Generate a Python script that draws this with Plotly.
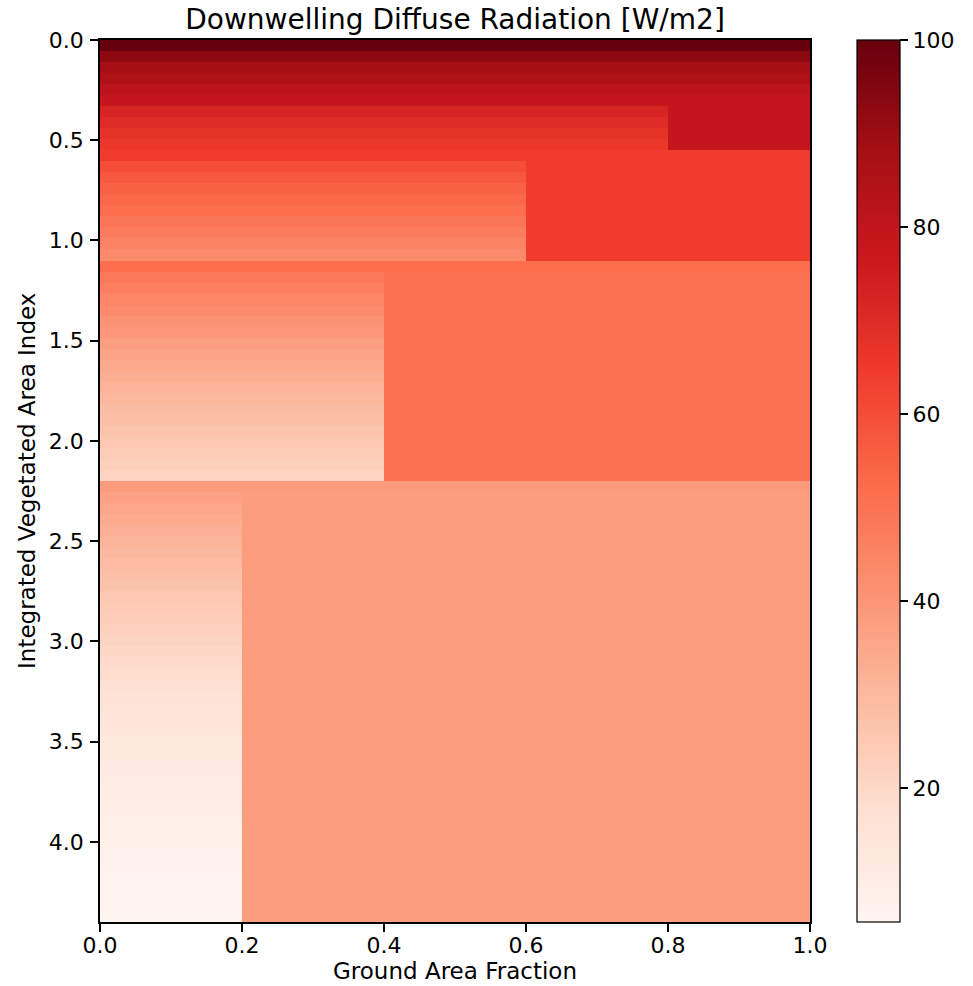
import numpy as np
import plotly.graph_objects as go

# ---- data ----
ground_area_fraction = [0.1, 0.3, 0.5, 0.7, 0.9]   # column centres
vai_row_height = 0.055                               # integrated VAI per row

# downwelling diffuse radiation in vegetated columns, per row, by canopy layer
layer1_rad = [100, 93, 88, 85, 81.5, 78.5, 72.5, 70, 67.5, 65.5]
layer2_rad = [64.5, 60, 57.5, 55.2, 53.3, 51.3, 49.2, 47.2, 45.2, 43]
layer3_rad = [51.5, 48.5, 46.4, 44.5, 42.7, 40.9, 39.2, 37.6, 36.0, 34.5,
              33.0, 31.6, 30.2, 28.9, 27.6, 26.3, 25.1, 23.9, 22.7, 21.6]
layer4_rad = [38.5, 36.8, 35.3, 33.9, 32.6, 31.3, 30.1, 28.9, 27.7, 26.6,
              25.5, 24.4, 23.4, 22.4, 21.4, 20.4, 19.4, 18.5, 17.5, 16.5,
              15.6, 14.8, 14.0, 13.2, 12.5, 11.8, 11.2, 10.6, 10.0, 9.5,
              9.0, 8.5, 8.1, 7.7, 7.3, 7.0, 6.6, 6.3, 6.0, 5.7]

# unvegetated (gap) blocks: first column, first row, end row, constant value
gap_first_col = [4, 3, 2, 1]
gap_first_row = [6, 11, 21, 41]
gap_end_row = [10, 20, 40, 80]
gap_rad = [78.5, 64.5, 50.5, 38.0]

reds = ["#fff5f0", "#fee0d2", "#fcbba1", "#fc9272", "#fb6a4a",
        "#ef3b2c", "#cb181d", "#a50f15", "#67000d"]

# ---- build grid ----
profile = np.array(layer1_rad + layer2_rad + layer3_rad + layer4_rad, dtype=float)
n_rows = len(profile)
z = np.repeat(profile[:, None], len(ground_area_fraction), axis=1)
for c, r0, r1, v in zip(gap_first_col, gap_first_row, gap_end_row, gap_rad):
    z[r0:r1, c:] = v
y_centres = (np.arange(n_rows) + 0.5) * vai_row_height
y_max = n_rows * vai_row_height

colorscale = [[i / (len(reds) - 1), c] for i, c in enumerate(reds)]

L, T, PW, PH = 100, 40, 710, 882
W, H = 973, 986

fig = go.Figure(go.Heatmap(
    z=z, x=ground_area_fraction, y=y_centres,
    colorscale=colorscale, zsmooth=False,
    colorbar=dict(
        x=(857 - 100) / PW, xanchor="left", xpad=0, ypad=0,
        y=0.5, yanchor="middle", len=1, lenmode="fraction",
        thickness=43, outlinewidth=1.2, outlinecolor="black",
        ticks="outside", ticklen=8, tickwidth=1.5, tickcolor="black",
        tick0=0, dtick=20,
        tickfont=dict(family="DejaVu Sans", size=22, color="black"),
    ),
))

axis_common = dict(
    showgrid=False, zeroline=False, showline=True, linecolor="black",
    linewidth=1.5, mirror=True, ticks="outside", ticklen=8, tickwidth=1.5,
    tickcolor="black", tickfont=dict(family="DejaVu Sans", size=22, color="black"),
    tickformat=".1f",
)

fig.update_layout(
    width=W, height=H,
    margin=dict(l=L, r=W - L - PW, t=T, b=H - T - PH, autoexpand=False),
    paper_bgcolor="white", plot_bgcolor="white",
    font=dict(family="DejaVu Sans", color="black"),
    title=dict(text="Downwelling Diffuse Radiation [W/m2]",
               x=0.5, xref="paper", xanchor="center",
               y=1 - 19 / H, yref="container", yanchor="middle",
               font=dict(size=28, family="DejaVu Sans", color="black")),
    xaxis=dict(range=[0, 1], tick0=0, dtick=0.2, ticklabelstandoff=-5, **axis_common),
    yaxis=dict(range=[y_max, 0], tick0=0, dtick=0.5, ticklabelstandoff=2, **axis_common),
    annotations=[
        dict(text="Ground Area Fraction", xref="paper", yref="paper",
             x=0.5, y=-(971 - 922) / PH, xanchor="center", yanchor="middle",
             showarrow=False, font=dict(size=23, family="DejaVu Sans", color="black")),
        dict(text="Integrated Vegetated Area Index", xref="paper", yref="paper",
             x=(27 - 100) / PW, y=0.5, xanchor="center", yanchor="middle",
             textangle=-90, showarrow=False,
             font=dict(size=23, family="DejaVu Sans", color="black")),
    ],
)

fig.write_html("out.html", config={"displayModeBar": False},
               post_script="document.body.style.margin='0';document.body.style.overflow='hidden';")
